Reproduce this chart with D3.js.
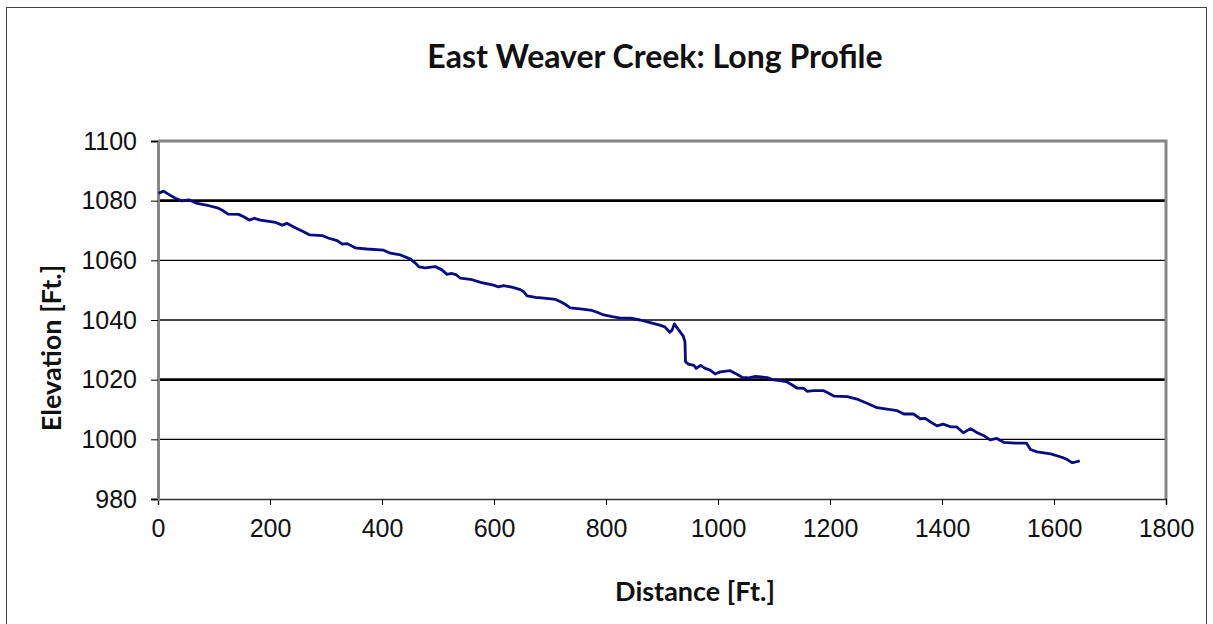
<!DOCTYPE html>
<html>
<head>
<meta charset="utf-8">
<script src="https://cdn.jsdelivr.net/npm/d3@7"></script>
<style>
  body { margin: 0; background: #fff; }
  svg { display: block; }
</style>
</head>
<body>
<script>
// long profile survey
var distance = [1, 10, 19, 31, 43, 55, 70, 91, 106, 114, 125, 144, 153, 163, 172, 183, 210, 222, 230, 245,
  260, 271, 293, 305, 320, 329, 338, 352, 373, 403, 415, 433, 451, 460, 466, 477, 495, 507, 516, 525,
  533, 540, 561, 576, 599, 608, 617, 632, 647, 653, 659, 674, 689, 710, 719, 727, 736, 754, 775, 784,
  796, 811, 826, 844, 861, 879, 896, 905, 914, 918, 922, 930, 938, 941, 942, 947, 957, 961, 969, 977,
  986, 995, 1004, 1022, 1031, 1043, 1055, 1067, 1088, 1099, 1111, 1123, 1141, 1153, 1159, 1171, 1189, 1207, 1231, 1248,
  1266, 1284, 1302, 1320, 1332, 1349, 1361, 1370, 1379, 1391, 1402, 1415, 1426, 1438, 1451, 1463, 1474, 1486, 1498, 1510,
  1531, 1551, 1558, 1570, 1594, 1614, 1623, 1632, 1638, 1646];
var elevation = [1082.5, 1083.2, 1082.1, 1080.8, 1079.9, 1080.3, 1079.1, 1078.3, 1077.6, 1076.9, 1075.5, 1075.4, 1074.6, 1073.5, 1074.1, 1073.5, 1072.7, 1071.8, 1072.4, 1070.9,
  1069.6, 1068.5, 1068.3, 1067.4, 1066.6, 1065.4, 1065.6, 1064.2, 1063.8, 1063.4, 1062.4, 1061.8, 1060.4, 1059.0, 1057.8, 1057.5, 1057.9, 1056.8, 1055.3, 1055.6,
  1055.1, 1054.0, 1053.5, 1052.6, 1051.7, 1051.1, 1051.5, 1051.0, 1050.2, 1049.5, 1048.1, 1047.6, 1047.3, 1046.9, 1046.1, 1045.3, 1044.1, 1043.7, 1043.2, 1042.6,
  1041.7, 1041.1, 1040.6, 1040.6, 1040.0, 1039.1, 1038.3, 1037.7, 1035.9, 1036.6, 1038.7, 1036.6, 1034.6, 1032.7, 1026.0, 1025.2, 1024.8, 1023.8, 1024.8, 1023.8,
  1023.2, 1021.9, 1022.6, 1023.0, 1022.1, 1020.8, 1020.6, 1021.1, 1020.7, 1019.9, 1019.7, 1019.3, 1017.2, 1017.1, 1016.1, 1016.3, 1016.3, 1014.5, 1014.3, 1013.5,
  1012.1, 1010.6, 1010.1, 1009.6, 1008.5, 1008.5, 1006.9, 1007.0, 1005.9, 1004.5, 1005.1, 1004.2, 1004.2, 1002.2, 1003.6, 1002.2, 1001.3, 999.8, 1000.3, 999.0,
  998.7, 998.7, 996.6, 995.8, 995.1, 994.0, 993.3, 992.2, 992.4, 992.8];

var xTicks = [0, 200, 400, 600, 800, 1000, 1200, 1400, 1600, 1800];
var yTicks = [980, 1000, 1020, 1040, 1060, 1080, 1100];

var W = 1213, H = 624;
var margin = {top: 141, right: 47, bottom: 125, left: 158},
    width = W - margin.left - margin.right,
    height = H - margin.top - margin.bottom;

var svg = d3.select("body").append("svg")
    .attr("width", W)
    .attr("height", H);

// outer chart frame
svg.append("rect")
    .attr("x", 6.5).attr("y", 7.5)
    .attr("width", 1200).attr("height", 640)
    .attr("fill", "none")
    .attr("stroke", "#444")
    .attr("stroke-width", 1);

var x = d3.scaleLinear().domain([0, 1800]).range([0, width]);
var y = d3.scaleLinear().domain([980, 1100]).range([height, 0]);

var g = svg.append("g")
    .attr("transform", "translate(" + margin.left + "," + margin.top + ")");

// horizontal gridlines
g.selectAll("line.grid")
    .data(yTicks.filter(function(d) { return d > 980 && d < 1100; }))
  .enter().append("line")
    .attr("class", "grid")
    .attr("x1", 0).attr("x2", width)
    .attr("y1", function(d) { return y(d); })
    .attr("y2", function(d) { return y(d); })
    .attr("stroke", "#000")
    .attr("stroke-width", function(d) { return (d == 1080 || d == 1020) ? 2.6 : 1.3; });

// top / right border of plot area
g.append("path")
    .attr("d", "M0,0H" + width + "V" + height)
    .attr("fill", "none")
    .attr("stroke", "#868686")
    .attr("stroke-width", 3);

// x axis
var xAxis = g.append("g")
    .attr("transform", "translate(0," + height + ")")
    .call(d3.axisBottom(x).tickValues(xTicks).tickSize(6).tickPadding(14).tickFormat(d3.format("d")));
xAxis.select(".domain").attr("stroke", "#333").attr("stroke-width", 1.5);
xAxis.selectAll(".tick line").attr("stroke", "#000");
xAxis.selectAll("text")
    .style("font-family", "'Liberation Sans', Arial, sans-serif")
    .style("font-size", "25px")
    .attr("fill", "#111");

// y axis
var yAxis = g.append("g")
    .call(d3.axisLeft(y).tickValues(yTicks).tickSize(7).tickPadding(14).tickFormat(d3.format("d")));
yAxis.select(".domain").attr("stroke", "#868686").attr("stroke-width", 3);
yAxis.selectAll(".tick line").attr("stroke", "#000");
yAxis.selectAll("text")
    .style("font-family", "'Liberation Sans', Arial, sans-serif")
    .style("font-size", "25px")
    .attr("fill", "#111");

// profile line
var line = d3.line()
    .x(function(d, i) { return x(distance[i]); })
    .y(function(d) { return y(d); });

g.append("path")
    .datum(elevation)
    .attr("d", line)
    .attr("fill", "none")
    .attr("stroke", "#0a0a82")
    .attr("stroke-width", 2.8)
    .attr("stroke-linejoin", "round");

// title and axis labels
svg.append("text")
    .attr("x", 655).attr("y", 68)
    .style("text-anchor", "middle")
    .style("font-family", "Lato, 'Open Sans', sans-serif")
    .style("font-weight", "bold")
    .style("font-size", "32px")
    .attr("fill", "#111")
    .text("East Weaver Creek: Long Profile");

svg.append("text")
    .attr("x", 695).attr("y", 601)
    .style("text-anchor", "middle")
    .style("font-family", "Lato, 'Open Sans', sans-serif")
    .style("font-weight", "bold")
    .style("font-size", "27px")
    .attr("fill", "#111")
    .text("Distance [Ft.]");

svg.append("text")
    .attr("transform", "translate(61,348) rotate(-90)")
    .style("text-anchor", "middle")
    .style("font-family", "Lato, 'Open Sans', sans-serif")
    .style("font-weight", "bold")
    .style("font-size", "27px")
    .attr("fill", "#111")
    .text("Elevation [Ft.]");
</script>
</body>
</html>
